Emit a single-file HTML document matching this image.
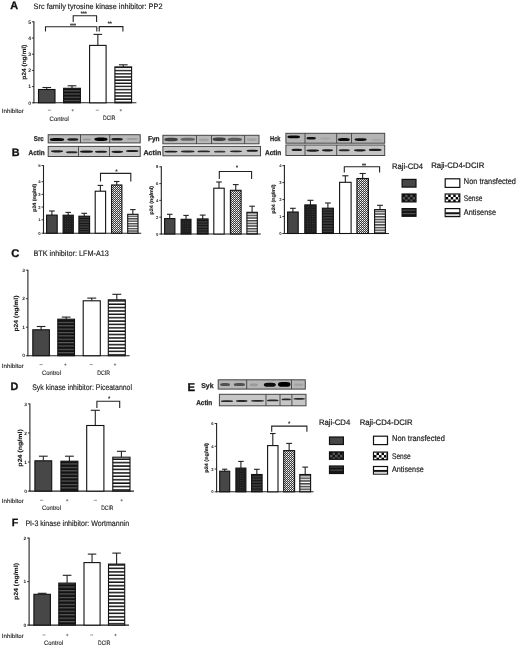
<!DOCTYPE html><html><head><meta charset="utf-8"><style>html,body{margin:0;padding:0;background:#fff;width:520px;height:646px;overflow:hidden}svg{display:block;filter:grayscale(1) blur(0.3px)}text{font-family:"Liberation Sans",sans-serif;text-rendering:geometricPrecision}</style></head><body>
<svg width="520" height="646" viewBox="0 0 520 646">
<defs>
<pattern id="pDS" width="4" height="3.25" patternUnits="userSpaceOnUse"><rect width="4" height="3.25" fill="#121212"/><rect y="1.6" width="4" height="1.1" fill="#5a5a5a"/></pattern>
<pattern id="pLS" width="4" height="3.25" patternUnits="userSpaceOnUse"><rect width="4" height="3.25" fill="#fff"/><rect y="0.2" width="4" height="1.45" fill="#111"/></pattern>
<pattern id="pDSs" width="4" height="2.6" patternUnits="userSpaceOnUse"><rect width="4" height="2.6" fill="#121212"/><rect y="1.3" width="4" height="1" fill="#666"/></pattern>
<pattern id="pLSs" width="4" height="2.6" patternUnits="userSpaceOnUse"><rect width="4" height="2.6" fill="#fff"/><rect y="0.1" width="4" height="1.15" fill="#111"/></pattern>
<pattern id="pDC" width="2.4" height="2.4" patternUnits="userSpaceOnUse"><rect width="2.4" height="2.4" fill="#141414"/><rect width="1.2" height="1.2" fill="#3c3c3c"/><rect x="1.2" y="1.2" width="1.2" height="1.2" fill="#262626"/></pattern>
<pattern id="pLC" width="2" height="2" patternUnits="userSpaceOnUse"><rect width="2" height="2" fill="#3a3a3a"/><rect width="1" height="1" fill="#fafafa"/><rect x="1" y="1" width="1" height="1" fill="#c0c0c0"/></pattern>
<pattern id="pLegC" width="5" height="5" patternUnits="userSpaceOnUse"><rect width="5" height="5" fill="#fff"/><rect x="2.5" width="2.5" height="2.5" fill="#000"/><rect y="2.5" width="2.5" height="2.5" fill="#000"/></pattern>
<pattern id="pLegDC" width="5" height="5" patternUnits="userSpaceOnUse"><rect width="5" height="5" fill="#111"/><rect width="2.5" height="2.5" fill="#555"/><rect x="2.5" y="2.5" width="2.5" height="2.5" fill="#555"/></pattern>
<pattern id="pD317" width="4" height="3.17" patternUnits="userSpaceOnUse"><rect width="4" height="3.17" fill="#121212"/><rect y="1.58" width="4" height="1.08" fill="#5a5a5a"/></pattern>
<pattern id="pL317" width="4" height="3.17" patternUnits="userSpaceOnUse"><rect width="4" height="3.17" fill="#fff"/><rect y="0.2" width="4" height="1.39" fill="#111"/></pattern>
<pattern id="pD245" width="4" height="2.45" patternUnits="userSpaceOnUse"><rect width="4" height="2.45" fill="#121212"/><rect y="1.23" width="4" height="0.83" fill="#5a5a5a"/></pattern>
<pattern id="pL245" width="4" height="2.45" patternUnits="userSpaceOnUse"><rect width="4" height="2.45" fill="#fff"/><rect y="0.2" width="4" height="1.08" fill="#111"/></pattern>
<pattern id="pD265" width="4" height="2.65" patternUnits="userSpaceOnUse"><rect width="4" height="2.65" fill="#121212"/><rect y="1.32" width="4" height="0.9" fill="#5a5a5a"/></pattern>
<pattern id="pL265" width="4" height="2.65" patternUnits="userSpaceOnUse"><rect width="4" height="2.65" fill="#fff"/><rect y="0.2" width="4" height="1.17" fill="#111"/></pattern>
<pattern id="pD270" width="4" height="2.7" patternUnits="userSpaceOnUse"><rect width="4" height="2.7" fill="#121212"/><rect y="1.35" width="4" height="0.92" fill="#5a5a5a"/></pattern>
<pattern id="pL270" width="4" height="2.7" patternUnits="userSpaceOnUse"><rect width="4" height="2.7" fill="#fff"/><rect y="0.2" width="4" height="1.19" fill="#111"/></pattern>
<pattern id="pD337" width="4" height="3.37" patternUnits="userSpaceOnUse"><rect width="4" height="3.37" fill="#121212"/><rect y="1.69" width="4" height="1.15" fill="#5a5a5a"/></pattern>
<pattern id="pL337" width="4" height="3.37" patternUnits="userSpaceOnUse"><rect width="4" height="3.37" fill="#fff"/><rect y="0.2" width="4" height="1.48" fill="#111"/></pattern>
<pattern id="pD342" width="4" height="3.42" patternUnits="userSpaceOnUse"><rect width="4" height="3.42" fill="#121212"/><rect y="1.71" width="4" height="1.16" fill="#5a5a5a"/></pattern>
<pattern id="pL342" width="4" height="3.42" patternUnits="userSpaceOnUse"><rect width="4" height="3.42" fill="#fff"/><rect y="0.2" width="4" height="1.5" fill="#111"/></pattern>
<pattern id="pD276" width="4" height="2.76" patternUnits="userSpaceOnUse"><rect width="4" height="2.76" fill="#121212"/><rect y="1.38" width="4" height="0.94" fill="#5a5a5a"/></pattern>
<pattern id="pL276" width="4" height="2.76" patternUnits="userSpaceOnUse"><rect width="4" height="2.76" fill="#fff"/><rect y="0.2" width="4" height="1.21" fill="#111"/></pattern>
<pattern id="pD346" width="4" height="3.46" patternUnits="userSpaceOnUse"><rect width="4" height="3.46" fill="#121212"/><rect y="1.73" width="4" height="1.18" fill="#5a5a5a"/></pattern>
<pattern id="pL346" width="4" height="3.46" patternUnits="userSpaceOnUse"><rect width="4" height="3.46" fill="#fff"/><rect y="0.2" width="4" height="1.52" fill="#111"/></pattern>
<filter id="bl" x="-20%" y="-100%" width="140%" height="300%"><feGaussianBlur stdDeviation="0.45"/></filter>
<filter id="bl2" x="-20%" y="-100%" width="140%" height="300%"><feGaussianBlur stdDeviation="0.75"/></filter>
</defs>
<rect width="520" height="646" fill="#fff"/>
<text x="10.2" y="8.9" font-size="10.8" font-weight="bold" text-anchor="start" fill="#111" stroke="#111" stroke-width="0.3">A</text>
<text x="33.6" y="9.4" font-size="7.9" text-anchor="start" textLength="128.9" lengthAdjust="spacingAndGlyphs" fill="#1a1a1a" stroke="#1a1a1a" stroke-width="0.15">Src family tyrosine kinase inhibitor: PP2</text>
<line x1="33.9" y1="21.3" x2="33.9" y2="103.3" stroke="#222" stroke-width="1.1"/>
<line x1="33.4" y1="102.8" x2="136.4" y2="102.8" stroke="#222" stroke-width="1.1"/>
<line x1="31.9" y1="102.8" x2="33.9" y2="102.8" stroke="#222" stroke-width="0.9"/>
<text x="31" y="104.6" font-size="5" font-weight="bold" text-anchor="end" fill="#222">0</text>
<line x1="31.9" y1="86.6" x2="33.9" y2="86.6" stroke="#222" stroke-width="0.9"/>
<text x="31" y="88.4" font-size="5" font-weight="bold" text-anchor="end" fill="#222">1</text>
<line x1="31.9" y1="70.4" x2="33.9" y2="70.4" stroke="#222" stroke-width="0.9"/>
<text x="31" y="72.2" font-size="5" font-weight="bold" text-anchor="end" fill="#222">2</text>
<line x1="31.9" y1="54.2" x2="33.9" y2="54.2" stroke="#222" stroke-width="0.9"/>
<text x="31" y="56" font-size="5" font-weight="bold" text-anchor="end" fill="#222">3</text>
<line x1="31.9" y1="38" x2="33.9" y2="38" stroke="#222" stroke-width="0.9"/>
<text x="31" y="39.8" font-size="5" font-weight="bold" text-anchor="end" fill="#222">4</text>
<line x1="31.9" y1="21.8" x2="33.9" y2="21.8" stroke="#222" stroke-width="0.9"/>
<text x="31" y="23.6" font-size="5" font-weight="bold" text-anchor="end" fill="#222">5</text>
<line x1="46.75" y1="89.5" x2="46.75" y2="87.5" stroke="#222" stroke-width="1.1"/>
<line x1="42.42" y1="87.5" x2="51.08" y2="87.5" stroke="#222" stroke-width="1.1"/>
<rect x="38.5" y="89.5" width="16.5" height="13.3" fill="#474747" stroke="#111" stroke-width="1.1"/>
<line x1="72" y1="88.3" x2="72" y2="85.8" stroke="#222" stroke-width="1.1"/>
<line x1="67.6" y1="85.8" x2="76.4" y2="85.8" stroke="#222" stroke-width="1.1"/>
<rect x="63.6" y="88.3" width="16.8" height="14.5" fill="url(#pD317)" stroke="#111" stroke-width="1.1"/>
<line x1="97.85" y1="45.4" x2="97.85" y2="34.4" stroke="#222" stroke-width="1.1"/>
<line x1="93.52" y1="34.4" x2="102.17" y2="34.4" stroke="#222" stroke-width="1.1"/>
<rect x="89.6" y="45.4" width="16.5" height="57.4" fill="#fff" stroke="#111" stroke-width="1.1"/>
<line x1="123.25" y1="66.9" x2="123.25" y2="64.8" stroke="#222" stroke-width="1.1"/>
<line x1="118.88" y1="64.8" x2="127.62" y2="64.8" stroke="#222" stroke-width="1.1"/>
<rect x="114.9" y="66.9" width="16.7" height="35.9" fill="url(#pL317)" stroke="#111" stroke-width="1.1"/>
<text transform="translate(24.7,62.2) rotate(-90)" x="0" y="0" font-size="6" font-weight="bold" text-anchor="middle" textLength="35" lengthAdjust="spacingAndGlyphs" fill="#1a1a1a" stroke="#1a1a1a" stroke-width="0.12" dominant-baseline="central">p24 (ng/ml)</text>
<path d="M73.2 21.9 V15.8 H96.6 V21.9" fill="none" stroke="#222" stroke-width="1.1"/>
<path d="M45.5 31.6 V26.8 H96.8 V31.6" fill="none" stroke="#222" stroke-width="1.1"/>
<path d="M99.2 31.6 V26.6 H122.9 V31.6" fill="none" stroke="#222" stroke-width="1.1"/>
<text x="83.7" y="15" font-size="5" font-weight="bold" text-anchor="middle" fill="#222" stroke="#222" stroke-width="0.15">***</text>
<text x="73" y="26.5" font-size="5" font-weight="bold" text-anchor="middle" fill="#222" stroke="#222" stroke-width="0.15">***</text>
<text x="109.7" y="25.3" font-size="5" font-weight="bold" text-anchor="middle" fill="#222" stroke="#222" stroke-width="0.15">**</text>
<text x="1.8" y="113.1" font-size="6" text-anchor="start" textLength="22" lengthAdjust="spacingAndGlyphs" fill="#222" stroke="#222" stroke-width="0.12">Inhibitor</text>
<line x1="47.9" y1="110.2" x2="51.1" y2="110.2" stroke="#555" stroke-width="0.6"/>
<line x1="71.5" y1="110.2" x2="73.9" y2="110.2" stroke="#555" stroke-width="0.6"/>
<line x1="72.7" y1="109" x2="72.7" y2="111.4" stroke="#555" stroke-width="0.6"/>
<line x1="95.7" y1="110.2" x2="98.9" y2="110.2" stroke="#555" stroke-width="0.6"/>
<line x1="119.6" y1="110.2" x2="122" y2="110.2" stroke="#555" stroke-width="0.6"/>
<line x1="120.8" y1="109" x2="120.8" y2="111.4" stroke="#555" stroke-width="0.6"/>
<text x="49.6" y="120.6" font-size="6.4" text-anchor="start" textLength="19.2" lengthAdjust="spacingAndGlyphs" fill="#222" stroke="#222" stroke-width="0.12">Control</text>
<text x="103" y="120.4" font-size="6.4" text-anchor="start" textLength="12.4" lengthAdjust="spacingAndGlyphs" fill="#222" stroke="#222" stroke-width="0.12">DCIR</text>
<text x="11.8" y="155.8" font-size="10.8" font-weight="bold" text-anchor="start" fill="#111" stroke="#111" stroke-width="0.3">B</text>
<text x="33.8" y="141.3" font-size="7" font-weight="bold" text-anchor="start" textLength="10" lengthAdjust="spacingAndGlyphs" fill="#222" stroke="#222" stroke-width="0.25">Src</text>
<text x="28.5" y="155.1" font-size="7" font-weight="bold" text-anchor="start" textLength="16.1" lengthAdjust="spacingAndGlyphs" fill="#222" stroke="#222" stroke-width="0.25">Actin</text>
<text x="148" y="141.3" font-size="7" font-weight="bold" text-anchor="start" textLength="11.6" lengthAdjust="spacingAndGlyphs" fill="#222" stroke="#222" stroke-width="0.25">Fyn</text>
<text x="143.5" y="155" font-size="7" font-weight="bold" text-anchor="start" textLength="17.7" lengthAdjust="spacingAndGlyphs" fill="#222" stroke="#222" stroke-width="0.25">Actin</text>
<text x="270" y="141.1" font-size="7" font-weight="bold" text-anchor="start" textLength="10.5" lengthAdjust="spacingAndGlyphs" fill="#222" stroke="#222" stroke-width="0.25">Hck</text>
<text x="265" y="155.1" font-size="7" font-weight="bold" text-anchor="start" textLength="16.2" lengthAdjust="spacingAndGlyphs" fill="#222" stroke="#222" stroke-width="0.25">Actin</text>
<rect x="48.2" y="134.7" width="92" height="8.2" fill="#b9b9b9" stroke="#444" stroke-width="1"/>
<rect x="49.8" y="137.9" width="14.4" height="3" rx="4.5" ry="1.5" fill="#000" opacity="0.95" filter="url(#bl)"/>
<rect x="67.3" y="138.3" width="11" height="2.4" rx="3.44" ry="1.2" fill="#000" opacity="0.85" filter="url(#bl)"/>
<rect x="82.5" y="138.4" width="8.5" height="2.2" rx="2.66" ry="1.1" fill="#000" opacity="0.18" filter="url(#bl)"/>
<rect x="94.4" y="137.6" width="13.1" height="3.4" rx="4.09" ry="1.7" fill="#000" opacity="1" filter="url(#bl)"/>
<rect x="111.3" y="137.9" width="11.5" height="2.6" rx="3.59" ry="1.3" fill="#000" opacity="0.85" filter="url(#bl)"/>
<rect x="126.7" y="137.9" width="11.3" height="2.2" rx="3.53" ry="1.1" fill="#000" opacity="0.15" filter="url(#bl)"/>
<line x1="80.5" y1="134.7" x2="80.5" y2="142.9" stroke="#333" stroke-width="0.8"/>
<line x1="109.8" y1="134.7" x2="109.8" y2="142.9" stroke="#333" stroke-width="0.8"/>
<rect x="48.2" y="146.4" width="92" height="10.1" fill="#c6c6c6" stroke="#444" stroke-width="1"/>
<rect x="51" y="150.2" width="12" height="2.2" rx="3.75" ry="1.1" fill="#000" opacity="0.85" filter="url(#bl)"/>
<rect x="66" y="151.3" width="11.5" height="2" rx="3.59" ry="1" fill="#000" opacity="0.8" filter="url(#bl)"/>
<rect x="80" y="150.4" width="13" height="2.4" rx="4.06" ry="1.2" fill="#000" opacity="0.9" filter="url(#bl)"/>
<rect x="95" y="150.8" width="12" height="2" rx="3.75" ry="1" fill="#000" opacity="0.85" filter="url(#bl)"/>
<rect x="111.5" y="150.7" width="11.5" height="2.2" rx="3.59" ry="1.1" fill="#000" opacity="0.85" filter="url(#bl)"/>
<rect x="126" y="149.9" width="12.5" height="2.2" rx="3.91" ry="1.1" fill="#000" opacity="0.85" filter="url(#bl)"/>
<line x1="78.5" y1="146.4" x2="78.5" y2="156.5" stroke="#333" stroke-width="0.8"/>
<line x1="109.5" y1="146.4" x2="109.5" y2="156.5" stroke="#333" stroke-width="0.8"/>
<rect x="162.9" y="135.3" width="96.1" height="8.5" fill="#bababa" stroke="#444" stroke-width="1"/>
<rect x="164.3" y="137.8" width="13.5" height="3.4" rx="4.22" ry="1.7" fill="#000" opacity="0.65" filter="url(#bl2)"/>
<rect x="180.5" y="137.8" width="14.5" height="3" rx="4.53" ry="1.5" fill="#000" opacity="0.45" filter="url(#bl2)"/>
<rect x="198.5" y="138.4" width="10.5" height="2.8" rx="3.28" ry="1.4" fill="#000" opacity="0.12" filter="url(#bl2)"/>
<rect x="212.6" y="137.5" width="13.2" height="3.4" rx="4.13" ry="1.7" fill="#000" opacity="0.65" filter="url(#bl2)"/>
<rect x="227.6" y="137.8" width="14.4" height="3.2" rx="4.5" ry="1.6" fill="#000" opacity="0.5" filter="url(#bl2)"/>
<rect x="246.5" y="138.2" width="10.5" height="2.8" rx="3.28" ry="1.4" fill="#000" opacity="0.12" filter="url(#bl2)"/>
<line x1="196.5" y1="135.3" x2="196.5" y2="143.8" stroke="#333" stroke-width="0.8"/>
<line x1="211.5" y1="135.3" x2="211.5" y2="143.8" stroke="#333" stroke-width="0.8"/>
<line x1="244.6" y1="135.3" x2="244.6" y2="143.8" stroke="#333" stroke-width="0.8"/>
<rect x="162.9" y="146.4" width="97.6" height="9.4" fill="#c6c6c6" stroke="#444" stroke-width="1"/>
<rect x="164.5" y="150.65" width="13" height="1.9" rx="4.06" ry="0.95" fill="#000" opacity="0.85" filter="url(#bl)"/>
<rect x="181" y="150.6" width="13.5" height="1.8" rx="4.22" ry="0.9" fill="#000" opacity="0.8" filter="url(#bl)"/>
<rect x="197.5" y="150.5" width="12.5" height="1.8" rx="3.91" ry="0.9" fill="#000" opacity="0.8" filter="url(#bl)"/>
<rect x="214" y="150.85" width="11.5" height="1.7" rx="3.59" ry="0.85" fill="#000" opacity="0.7" filter="url(#bl)"/>
<rect x="230" y="150.4" width="12" height="1.8" rx="3.75" ry="0.9" fill="#000" opacity="0.8" filter="url(#bl)"/>
<rect x="246.5" y="149.7" width="11.5" height="2" rx="3.59" ry="1" fill="#000" opacity="0.85" filter="url(#bl)"/>
<rect x="285.9" y="133.3" width="98.8" height="9.9" fill="#b4b4b4" stroke="#444" stroke-width="1"/>
<rect x="287.4" y="135.6" width="12.6" height="2.6" rx="3.94" ry="1.3" fill="#000" opacity="0.95" filter="url(#bl)"/>
<rect x="306.4" y="137" width="9.6" height="2.6" rx="3" ry="1.3" fill="#000" opacity="0.9" filter="url(#bl)"/>
<rect x="320" y="137.5" width="10.8" height="2.2" rx="3.38" ry="1.1" fill="#000" opacity="0.08" filter="url(#bl)"/>
<rect x="338" y="138.1" width="11.8" height="3" rx="3.69" ry="1.5" fill="#000" opacity="0.95" filter="url(#bl)"/>
<rect x="354.5" y="138.3" width="12.2" height="2.6" rx="3.81" ry="1.3" fill="#000" opacity="0.9" filter="url(#bl)"/>
<rect x="371" y="138.7" width="10.5" height="2.2" rx="3.28" ry="1.1" fill="#000" opacity="0.08" filter="url(#bl)"/>
<line x1="305" y1="133.3" x2="305" y2="143.2" stroke="#333" stroke-width="0.8"/>
<line x1="336.7" y1="133.3" x2="336.7" y2="143.2" stroke="#333" stroke-width="0.8"/>
<line x1="351.5" y1="133.3" x2="351.5" y2="143.2" stroke="#333" stroke-width="0.8"/>
<rect x="285.9" y="145" width="98.8" height="10.5" fill="#c4c4c4" stroke="#444" stroke-width="1"/>
<rect x="291.6" y="148.8" width="10.4" height="2.2" rx="3.25" ry="1.1" fill="#000" opacity="0.85" filter="url(#bl)"/>
<rect x="306.4" y="149.5" width="12.6" height="2.2" rx="3.94" ry="1.1" fill="#000" opacity="0.85" filter="url(#bl)"/>
<rect x="322" y="149.2" width="11" height="2.2" rx="3.44" ry="1.1" fill="#000" opacity="0.85" filter="url(#bl)"/>
<rect x="338.8" y="149.25" width="11" height="2.1" rx="3.44" ry="1.05" fill="#000" opacity="0.8" filter="url(#bl)"/>
<rect x="354" y="149.2" width="11.7" height="2.2" rx="3.66" ry="1.1" fill="#000" opacity="0.85" filter="url(#bl)"/>
<rect x="368.8" y="148.8" width="12.7" height="2.2" rx="3.97" ry="1.1" fill="#000" opacity="0.85" filter="url(#bl)"/>
<line x1="305" y1="145" x2="305" y2="155.5" stroke="#333" stroke-width="0.8"/>
<line x1="336.7" y1="145" x2="336.7" y2="155.5" stroke="#333" stroke-width="0.8"/>
<line x1="43.5" y1="165.1" x2="43.5" y2="233.7" stroke="#222" stroke-width="1.1"/>
<line x1="43" y1="233.2" x2="141.2" y2="233.2" stroke="#222" stroke-width="1.1"/>
<line x1="41.5" y1="233.2" x2="43.5" y2="233.2" stroke="#222" stroke-width="0.9"/>
<text x="40.6" y="234.71" font-size="4.2" font-weight="bold" text-anchor="end" fill="#222">0</text>
<line x1="41.5" y1="219.8" x2="43.5" y2="219.8" stroke="#222" stroke-width="0.9"/>
<text x="40.6" y="221.31" font-size="4.2" font-weight="bold" text-anchor="end" fill="#222">1</text>
<line x1="41.5" y1="207.1" x2="43.5" y2="207.1" stroke="#222" stroke-width="0.9"/>
<text x="40.6" y="208.61" font-size="4.2" font-weight="bold" text-anchor="end" fill="#222">2</text>
<line x1="41.5" y1="194.4" x2="43.5" y2="194.4" stroke="#222" stroke-width="0.9"/>
<text x="40.6" y="195.91" font-size="4.2" font-weight="bold" text-anchor="end" fill="#222">3</text>
<line x1="41.5" y1="181.7" x2="43.5" y2="181.7" stroke="#222" stroke-width="0.9"/>
<text x="40.6" y="183.21" font-size="4.2" font-weight="bold" text-anchor="end" fill="#222">4</text>
<line x1="41.5" y1="165.5" x2="43.5" y2="165.5" stroke="#222" stroke-width="0.9"/>
<text x="40.6" y="167.01" font-size="4.2" font-weight="bold" text-anchor="end" fill="#222">5</text>
<line x1="51.9" y1="215.1" x2="51.9" y2="211" stroke="#222" stroke-width="1.1"/>
<line x1="49.05" y1="211" x2="54.75" y2="211" stroke="#222" stroke-width="1.1"/>
<rect x="46.6" y="215.1" width="10.6" height="18.1" fill="#474747" stroke="#111" stroke-width="1.1"/>
<line x1="68.2" y1="215.2" x2="68.2" y2="212.4" stroke="#222" stroke-width="1.1"/>
<line x1="65.45" y1="212.4" x2="70.95" y2="212.4" stroke="#222" stroke-width="1.1"/>
<rect x="63.1" y="215.2" width="10.2" height="18" fill="url(#pDC)" stroke="#111" stroke-width="1.1"/>
<line x1="84.25" y1="216.2" x2="84.25" y2="213.3" stroke="#222" stroke-width="1.1"/>
<line x1="81.38" y1="213.3" x2="87.12" y2="213.3" stroke="#222" stroke-width="1.1"/>
<rect x="78.9" y="216.2" width="10.7" height="17" fill="url(#pD245)" stroke="#111" stroke-width="1.1"/>
<line x1="100.4" y1="191.2" x2="100.4" y2="185.4" stroke="#222" stroke-width="1.1"/>
<line x1="97.6" y1="185.4" x2="103.2" y2="185.4" stroke="#222" stroke-width="1.1"/>
<rect x="95.2" y="191.2" width="10.4" height="42" fill="#fff" stroke="#111" stroke-width="1.1"/>
<line x1="116.75" y1="185" x2="116.75" y2="181.5" stroke="#222" stroke-width="1.1"/>
<line x1="113.97" y1="181.5" x2="119.53" y2="181.5" stroke="#222" stroke-width="1.1"/>
<rect x="111.6" y="185" width="10.3" height="48.2" fill="url(#pLC)" stroke="#111" stroke-width="1.1"/>
<line x1="132.85" y1="214.3" x2="132.85" y2="209.6" stroke="#222" stroke-width="1.1"/>
<line x1="130.07" y1="209.6" x2="135.62" y2="209.6" stroke="#222" stroke-width="1.1"/>
<rect x="127.7" y="214.3" width="10.3" height="18.9" fill="url(#pL245)" stroke="#111" stroke-width="1.1"/>
<text transform="translate(34.8,197.8) rotate(-90)" x="0" y="0" font-size="5" font-weight="bold" text-anchor="middle" textLength="28" lengthAdjust="spacingAndGlyphs" fill="#1a1a1a" stroke="#1a1a1a" stroke-width="0.12" dominant-baseline="central">p24 (ng/ml)</text>
<path d="M100.5 181.5 V173.4 H130.8 V181.5" fill="none" stroke="#222" stroke-width="1.1"/>
<text x="116.6" y="172.7" font-size="5" font-weight="bold" text-anchor="middle" fill="#222" stroke="#222" stroke-width="0.15">*</text>
<line x1="161.3" y1="166.3" x2="161.3" y2="234.5" stroke="#222" stroke-width="1.1"/>
<line x1="160.8" y1="234" x2="260.8" y2="234" stroke="#222" stroke-width="1.1"/>
<line x1="159.3" y1="234" x2="161.3" y2="234" stroke="#222" stroke-width="0.9"/>
<text x="158.4" y="235.51" font-size="4.2" font-weight="bold" text-anchor="end" fill="#222">0</text>
<line x1="159.3" y1="217.2" x2="161.3" y2="217.2" stroke="#222" stroke-width="0.9"/>
<text x="158.4" y="218.71" font-size="4.2" font-weight="bold" text-anchor="end" fill="#222">2</text>
<line x1="159.3" y1="200.4" x2="161.3" y2="200.4" stroke="#222" stroke-width="0.9"/>
<text x="158.4" y="201.91" font-size="4.2" font-weight="bold" text-anchor="end" fill="#222">4</text>
<line x1="159.3" y1="183.6" x2="161.3" y2="183.6" stroke="#222" stroke-width="0.9"/>
<text x="158.4" y="185.11" font-size="4.2" font-weight="bold" text-anchor="end" fill="#222">6</text>
<line x1="159.3" y1="166.8" x2="161.3" y2="166.8" stroke="#222" stroke-width="0.9"/>
<text x="158.4" y="168.31" font-size="4.2" font-weight="bold" text-anchor="end" fill="#222">8</text>
<line x1="169.75" y1="218.6" x2="169.75" y2="214.3" stroke="#222" stroke-width="1.1"/>
<line x1="166.97" y1="214.3" x2="172.53" y2="214.3" stroke="#222" stroke-width="1.1"/>
<rect x="164.6" y="218.6" width="10.3" height="15.4" fill="#474747" stroke="#111" stroke-width="1.1"/>
<line x1="186.05" y1="219.3" x2="186.05" y2="215.4" stroke="#222" stroke-width="1.1"/>
<line x1="183.38" y1="215.4" x2="188.73" y2="215.4" stroke="#222" stroke-width="1.1"/>
<rect x="181.1" y="219.3" width="9.9" height="14.7" fill="url(#pDC)" stroke="#111" stroke-width="1.1"/>
<line x1="202.7" y1="218.9" x2="202.7" y2="215.1" stroke="#222" stroke-width="1.1"/>
<line x1="199.8" y1="215.1" x2="205.6" y2="215.1" stroke="#222" stroke-width="1.1"/>
<rect x="197.3" y="218.9" width="10.8" height="15.1" fill="url(#pD265)" stroke="#111" stroke-width="1.1"/>
<line x1="219" y1="188.2" x2="219" y2="182" stroke="#222" stroke-width="1.1"/>
<line x1="216.2" y1="182" x2="221.8" y2="182" stroke="#222" stroke-width="1.1"/>
<rect x="213.8" y="188.2" width="10.4" height="45.8" fill="#fff" stroke="#111" stroke-width="1.1"/>
<line x1="235.75" y1="190.3" x2="235.75" y2="184.6" stroke="#222" stroke-width="1.1"/>
<line x1="232.88" y1="184.6" x2="238.62" y2="184.6" stroke="#222" stroke-width="1.1"/>
<rect x="230.4" y="190.3" width="10.7" height="43.7" fill="url(#pLC)" stroke="#111" stroke-width="1.1"/>
<line x1="252.1" y1="212.3" x2="252.1" y2="206.2" stroke="#222" stroke-width="1.1"/>
<line x1="249.3" y1="206.2" x2="254.9" y2="206.2" stroke="#222" stroke-width="1.1"/>
<rect x="246.9" y="212.3" width="10.4" height="21.7" fill="url(#pL265)" stroke="#111" stroke-width="1.1"/>
<text transform="translate(151.9,200.3) rotate(-90)" x="0" y="0" font-size="5" font-weight="bold" text-anchor="middle" textLength="28.5" lengthAdjust="spacingAndGlyphs" fill="#1a1a1a" stroke="#1a1a1a" stroke-width="0.12" dominant-baseline="central">p24 (ng/ml)</text>
<path d="M219.3 179 V171.5 H251.6 V179" fill="none" stroke="#222" stroke-width="1.1"/>
<text x="237" y="169.3" font-size="5" font-weight="bold" text-anchor="middle" fill="#222" stroke="#222" stroke-width="0.15">*</text>
<line x1="284.4" y1="165.1" x2="284.4" y2="234" stroke="#222" stroke-width="1.1"/>
<line x1="283.9" y1="233.5" x2="388.9" y2="233.5" stroke="#222" stroke-width="1.1"/>
<line x1="282.4" y1="233.5" x2="284.4" y2="233.5" stroke="#222" stroke-width="0.9"/>
<text x="281.5" y="235.01" font-size="4.2" font-weight="bold" text-anchor="end" fill="#222">0</text>
<line x1="282.4" y1="216.53" x2="284.4" y2="216.53" stroke="#222" stroke-width="0.9"/>
<text x="281.5" y="218.04" font-size="4.2" font-weight="bold" text-anchor="end" fill="#222">1</text>
<line x1="282.4" y1="199.55" x2="284.4" y2="199.55" stroke="#222" stroke-width="0.9"/>
<text x="281.5" y="201.06" font-size="4.2" font-weight="bold" text-anchor="end" fill="#222">2</text>
<line x1="282.4" y1="182.57" x2="284.4" y2="182.57" stroke="#222" stroke-width="0.9"/>
<text x="281.5" y="184.09" font-size="4.2" font-weight="bold" text-anchor="end" fill="#222">3</text>
<line x1="282.4" y1="165.6" x2="284.4" y2="165.6" stroke="#222" stroke-width="0.9"/>
<text x="281.5" y="167.11" font-size="4.2" font-weight="bold" text-anchor="end" fill="#222">4</text>
<line x1="292.9" y1="212" x2="292.9" y2="208.3" stroke="#222" stroke-width="1.1"/>
<line x1="290.05" y1="208.3" x2="295.75" y2="208.3" stroke="#222" stroke-width="1.1"/>
<rect x="287.6" y="212" width="10.6" height="21.5" fill="#474747" stroke="#111" stroke-width="1.1"/>
<line x1="310.45" y1="204.9" x2="310.45" y2="200.3" stroke="#222" stroke-width="1.1"/>
<line x1="307.42" y1="200.3" x2="313.48" y2="200.3" stroke="#222" stroke-width="1.1"/>
<rect x="304.8" y="204.9" width="11.3" height="28.6" fill="url(#pDC)" stroke="#111" stroke-width="1.1"/>
<line x1="327.9" y1="208.2" x2="327.9" y2="203" stroke="#222" stroke-width="1.1"/>
<line x1="324.95" y1="203" x2="330.85" y2="203" stroke="#222" stroke-width="1.1"/>
<rect x="322.4" y="208.2" width="11" height="25.3" fill="url(#pD270)" stroke="#111" stroke-width="1.1"/>
<line x1="345.35" y1="182.3" x2="345.35" y2="175.8" stroke="#222" stroke-width="1.1"/>
<line x1="342.28" y1="175.8" x2="348.43" y2="175.8" stroke="#222" stroke-width="1.1"/>
<rect x="339.6" y="182.3" width="11.5" height="51.2" fill="#fff" stroke="#111" stroke-width="1.1"/>
<line x1="362.65" y1="178.5" x2="362.65" y2="173.5" stroke="#222" stroke-width="1.1"/>
<line x1="359.57" y1="173.5" x2="365.72" y2="173.5" stroke="#222" stroke-width="1.1"/>
<rect x="356.9" y="178.5" width="11.5" height="55" fill="url(#pLC)" stroke="#111" stroke-width="1.1"/>
<line x1="380" y1="209.6" x2="380" y2="205.3" stroke="#222" stroke-width="1.1"/>
<line x1="377.1" y1="205.3" x2="382.9" y2="205.3" stroke="#222" stroke-width="1.1"/>
<rect x="374.6" y="209.6" width="10.8" height="23.9" fill="url(#pL270)" stroke="#111" stroke-width="1.1"/>
<text transform="translate(274.1,199) rotate(-90)" x="0" y="0" font-size="5" font-weight="bold" text-anchor="middle" textLength="29" lengthAdjust="spacingAndGlyphs" fill="#1a1a1a" stroke="#1a1a1a" stroke-width="0.12" dominant-baseline="central">p24 (ng/ml)</text>
<path d="M344.3 172.6 V166.7 H379.6 V172.6" fill="none" stroke="#222" stroke-width="1.1"/>
<text x="364" y="166.9" font-size="5" font-weight="bold" text-anchor="middle" fill="#222" stroke="#222" stroke-width="0.15">**</text>
<text x="392" y="168.8" font-size="8" text-anchor="start" textLength="31" lengthAdjust="spacingAndGlyphs" fill="#1a1a1a" stroke="#1a1a1a" stroke-width="0.22">Raji-CD4</text>
<text x="431.2" y="168.3" font-size="8" text-anchor="start" textLength="53.2" lengthAdjust="spacingAndGlyphs" fill="#1a1a1a" stroke="#1a1a1a" stroke-width="0.22">Raji-CD4-DCIR</text>
<rect x="402.1" y="179.4" width="13.9" height="7.7" fill="#474747" stroke="#111" stroke-width="1.2"/>
<rect x="402.1" y="194" width="13.9" height="7.9" fill="#111"/>
<clipPath id="c214"><rect x="402.1" y="194" width="13.9" height="7.9"/></clipPath>
<g fill="#555" clip-path="url(#c214)"><rect x="405.1" y="194.5" width="2.5" height="2.5"/><rect x="410.1" y="194.5" width="2.5" height="2.5"/><rect x="415.1" y="194.5" width="2.5" height="2.5"/><rect x="402.6" y="197" width="2.5" height="2.5"/><rect x="407.6" y="197" width="2.5" height="2.5"/><rect x="412.6" y="197" width="2.5" height="2.5"/><rect x="417.6" y="197" width="2.5" height="2.5"/><rect x="405.1" y="199.5" width="2.5" height="2.5"/><rect x="410.1" y="199.5" width="2.5" height="2.5"/><rect x="415.1" y="199.5" width="2.5" height="2.5"/><rect x="402.6" y="202" width="2.5" height="2.5"/><rect x="407.6" y="202" width="2.5" height="2.5"/><rect x="412.6" y="202" width="2.5" height="2.5"/><rect x="417.6" y="202" width="2.5" height="2.5"/><rect x="405.1" y="204.5" width="2.5" height="2.5"/><rect x="410.1" y="204.5" width="2.5" height="2.5"/><rect x="415.1" y="204.5" width="2.5" height="2.5"/></g>
<rect x="402.1" y="194" width="13.9" height="7.9" fill="none" stroke="#111" stroke-width="1.2"/>
<rect x="402.1" y="208.6" width="13.9" height="7.7" fill="url(#pDS)" stroke="#111" stroke-width="1.2"/>
<rect x="445.2" y="178.8" width="14.6" height="8.6" fill="#fff" stroke="#111" stroke-width="1.2"/>
<rect x="445.2" y="194" width="14.6" height="7.9" fill="#fff"/>
<clipPath id="c220"><rect x="445.2" y="194" width="14.6" height="7.9"/></clipPath>
<g fill="#000" clip-path="url(#c220)"><rect x="448.2" y="194.5" width="2.5" height="2.5"/><rect x="453.2" y="194.5" width="2.5" height="2.5"/><rect x="458.2" y="194.5" width="2.5" height="2.5"/><rect x="445.7" y="197" width="2.5" height="2.5"/><rect x="450.7" y="197" width="2.5" height="2.5"/><rect x="455.7" y="197" width="2.5" height="2.5"/><rect x="460.7" y="197" width="2.5" height="2.5"/><rect x="448.2" y="199.5" width="2.5" height="2.5"/><rect x="453.2" y="199.5" width="2.5" height="2.5"/><rect x="458.2" y="199.5" width="2.5" height="2.5"/><rect x="445.7" y="202" width="2.5" height="2.5"/><rect x="450.7" y="202" width="2.5" height="2.5"/><rect x="455.7" y="202" width="2.5" height="2.5"/><rect x="460.7" y="202" width="2.5" height="2.5"/><rect x="448.2" y="204.5" width="2.5" height="2.5"/><rect x="453.2" y="204.5" width="2.5" height="2.5"/><rect x="458.2" y="204.5" width="2.5" height="2.5"/></g>
<rect x="445.2" y="194" width="14.6" height="7.9" fill="none" stroke="#111" stroke-width="1.2"/>
<rect x="445.2" y="208.6" width="14.6" height="8" fill="#fff" stroke="#111" stroke-width="1.2"/>
<rect x="445.8" y="212.6" width="13.4" height="3.4" fill="#d4d4d4"/>
<line x1="445.2" y1="213.2" x2="459.8" y2="213.2" stroke="#111" stroke-width="1.9"/>
<text x="463.8" y="183.6" font-size="8.2" text-anchor="start" textLength="52.2" lengthAdjust="spacingAndGlyphs" fill="#1a1a1a" stroke="#1a1a1a" stroke-width="0.18">Non transfected</text>
<text x="463.8" y="200.8" font-size="8.2" text-anchor="start" textLength="18.7" lengthAdjust="spacingAndGlyphs" fill="#1a1a1a" stroke="#1a1a1a" stroke-width="0.18">Sense</text>
<text x="463.8" y="214.7" font-size="8.2" text-anchor="start" textLength="32.2" lengthAdjust="spacingAndGlyphs" fill="#1a1a1a" stroke="#1a1a1a" stroke-width="0.18">Antisense</text>
<text x="11.3" y="256.8" font-size="11.2" font-weight="bold" text-anchor="start" fill="#111" stroke="#111" stroke-width="0.3">C</text>
<text x="33.4" y="255.8" font-size="8" text-anchor="start" textLength="75.4" lengthAdjust="spacingAndGlyphs" fill="#1a1a1a" stroke="#1a1a1a" stroke-width="0.15">BTK inhibitor: LFM-A13</text>
<line x1="27.9" y1="269.7" x2="27.9" y2="356.2" stroke="#222" stroke-width="1.1"/>
<line x1="27.4" y1="355.7" x2="129.7" y2="355.7" stroke="#222" stroke-width="1.1"/>
<line x1="25.9" y1="355.7" x2="27.9" y2="355.7" stroke="#222" stroke-width="0.9"/>
<text x="25" y="357.43" font-size="4.8" font-weight="bold" text-anchor="end" fill="#222">0</text>
<line x1="25.9" y1="327.2" x2="27.9" y2="327.2" stroke="#222" stroke-width="0.9"/>
<text x="25" y="328.93" font-size="4.8" font-weight="bold" text-anchor="end" fill="#222">1</text>
<line x1="25.9" y1="298.7" x2="27.9" y2="298.7" stroke="#222" stroke-width="0.9"/>
<text x="25" y="300.43" font-size="4.8" font-weight="bold" text-anchor="end" fill="#222">2</text>
<line x1="25.9" y1="270.2" x2="27.9" y2="270.2" stroke="#222" stroke-width="0.9"/>
<text x="25" y="271.93" font-size="4.8" font-weight="bold" text-anchor="end" fill="#222">3</text>
<line x1="41.1" y1="329.8" x2="41.1" y2="326.5" stroke="#222" stroke-width="1.1"/>
<line x1="36.75" y1="326.5" x2="45.45" y2="326.5" stroke="#222" stroke-width="1.1"/>
<rect x="32.8" y="329.8" width="16.6" height="25.9" fill="#474747" stroke="#111" stroke-width="1.1"/>
<line x1="66.15" y1="319.2" x2="66.15" y2="317.1" stroke="#222" stroke-width="1.1"/>
<line x1="61.78" y1="317.1" x2="70.53" y2="317.1" stroke="#222" stroke-width="1.1"/>
<rect x="57.8" y="319.2" width="16.7" height="36.5" fill="url(#pD337)" stroke="#111" stroke-width="1.1"/>
<line x1="91.75" y1="300.8" x2="91.75" y2="298.1" stroke="#222" stroke-width="1.1"/>
<line x1="87.28" y1="298.1" x2="96.22" y2="298.1" stroke="#222" stroke-width="1.1"/>
<rect x="83.2" y="300.8" width="17.1" height="54.9" fill="#fff" stroke="#111" stroke-width="1.1"/>
<line x1="116.8" y1="299.8" x2="116.8" y2="294.3" stroke="#222" stroke-width="1.1"/>
<line x1="112.35" y1="294.3" x2="121.25" y2="294.3" stroke="#222" stroke-width="1.1"/>
<rect x="108.3" y="299.8" width="17" height="55.9" fill="url(#pL337)" stroke="#111" stroke-width="1.1"/>
<text transform="translate(16.6,313.5) rotate(-90)" x="0" y="0" font-size="6" font-weight="bold" text-anchor="middle" textLength="36" lengthAdjust="spacingAndGlyphs" fill="#1a1a1a" stroke="#1a1a1a" stroke-width="0.12" dominant-baseline="central">p24 (ng/ml)</text>
<text x="1.8" y="367.5" font-size="6" text-anchor="start" textLength="22" lengthAdjust="spacingAndGlyphs" fill="#222" stroke="#222" stroke-width="0.12">Inhibitor</text>
<line x1="39.5" y1="364.6" x2="42.7" y2="364.6" stroke="#555" stroke-width="0.6"/>
<line x1="64.2" y1="364.6" x2="66.6" y2="364.6" stroke="#555" stroke-width="0.6"/>
<line x1="65.4" y1="363.4" x2="65.4" y2="365.8" stroke="#555" stroke-width="0.6"/>
<line x1="89.6" y1="364.6" x2="92.8" y2="364.6" stroke="#555" stroke-width="0.6"/>
<line x1="113.8" y1="364.6" x2="116.2" y2="364.6" stroke="#555" stroke-width="0.6"/>
<line x1="115" y1="363.4" x2="115" y2="365.8" stroke="#555" stroke-width="0.6"/>
<text x="41.9" y="375.1" font-size="6.4" text-anchor="start" textLength="19.1" lengthAdjust="spacingAndGlyphs" fill="#222" stroke="#222" stroke-width="0.12">Control</text>
<text x="97.3" y="374.9" font-size="6.4" text-anchor="start" textLength="12.7" lengthAdjust="spacingAndGlyphs" fill="#222" stroke="#222" stroke-width="0.12">DCIR</text>
<text x="10.6" y="390.1" font-size="10.8" font-weight="bold" text-anchor="start" fill="#111" stroke="#111" stroke-width="0.3">D</text>
<text x="32.2" y="389.5" font-size="8.1" text-anchor="start" textLength="99.8" lengthAdjust="spacingAndGlyphs" fill="#1a1a1a" stroke="#1a1a1a" stroke-width="0.15">Syk kinase inhibitor: Piceatannol</text>
<line x1="29.9" y1="403.4" x2="29.9" y2="491.6" stroke="#222" stroke-width="1.1"/>
<line x1="29.4" y1="491.1" x2="134" y2="491.1" stroke="#222" stroke-width="1.1"/>
<line x1="27.9" y1="491.1" x2="29.9" y2="491.1" stroke="#222" stroke-width="0.9"/>
<text x="27" y="492.83" font-size="4.8" font-weight="bold" text-anchor="end" fill="#222">0</text>
<line x1="27.9" y1="462.03" x2="29.9" y2="462.03" stroke="#222" stroke-width="0.9"/>
<text x="27" y="463.76" font-size="4.8" font-weight="bold" text-anchor="end" fill="#222">1</text>
<line x1="27.9" y1="432.97" x2="29.9" y2="432.97" stroke="#222" stroke-width="0.9"/>
<text x="27" y="434.69" font-size="4.8" font-weight="bold" text-anchor="end" fill="#222">2</text>
<line x1="27.9" y1="403.9" x2="29.9" y2="403.9" stroke="#222" stroke-width="0.9"/>
<text x="27" y="405.63" font-size="4.8" font-weight="bold" text-anchor="end" fill="#222">3</text>
<line x1="43.3" y1="460.8" x2="43.3" y2="456.2" stroke="#222" stroke-width="1.1"/>
<line x1="38.9" y1="456.2" x2="47.7" y2="456.2" stroke="#222" stroke-width="1.1"/>
<rect x="34.9" y="460.8" width="16.8" height="30.3" fill="#474747" stroke="#111" stroke-width="1.1"/>
<line x1="69.4" y1="461.2" x2="69.4" y2="456.2" stroke="#222" stroke-width="1.1"/>
<line x1="64.95" y1="456.2" x2="73.85" y2="456.2" stroke="#222" stroke-width="1.1"/>
<rect x="60.9" y="461.2" width="17" height="29.9" fill="url(#pD342)" stroke="#111" stroke-width="1.1"/>
<line x1="95.3" y1="425.5" x2="95.3" y2="410.3" stroke="#222" stroke-width="1.1"/>
<line x1="90.8" y1="410.3" x2="99.8" y2="410.3" stroke="#222" stroke-width="1.1"/>
<rect x="86.7" y="425.5" width="17.2" height="65.6" fill="#fff" stroke="#111" stroke-width="1.1"/>
<line x1="121.4" y1="457.2" x2="121.4" y2="451.3" stroke="#222" stroke-width="1.1"/>
<line x1="116.9" y1="451.3" x2="125.9" y2="451.3" stroke="#222" stroke-width="1.1"/>
<rect x="112.8" y="457.2" width="17.2" height="33.9" fill="url(#pL342)" stroke="#111" stroke-width="1.1"/>
<text transform="translate(21.3,447.9) rotate(-90)" x="0" y="0" font-size="6" font-weight="bold" text-anchor="middle" textLength="37.5" lengthAdjust="spacingAndGlyphs" fill="#1a1a1a" stroke="#1a1a1a" stroke-width="0.12" dominant-baseline="central">p24 (ng/ml)</text>
<path d="M96.9 408 V401.3 H119.7 V408" fill="none" stroke="#222" stroke-width="1.1"/>
<text x="109.2" y="400.3" font-size="5" font-weight="bold" text-anchor="middle" fill="#222" stroke="#222" stroke-width="0.15">*</text>
<text x="1.8" y="503.2" font-size="6" text-anchor="start" textLength="22" lengthAdjust="spacingAndGlyphs" fill="#222" stroke="#222" stroke-width="0.12">Inhibitor</text>
<line x1="40" y1="500.3" x2="43.2" y2="500.3" stroke="#555" stroke-width="0.6"/>
<line x1="66" y1="500.3" x2="68.4" y2="500.3" stroke="#555" stroke-width="0.6"/>
<line x1="67.2" y1="499.1" x2="67.2" y2="501.5" stroke="#555" stroke-width="0.6"/>
<line x1="93.8" y1="500.3" x2="97" y2="500.3" stroke="#555" stroke-width="0.6"/>
<line x1="120.4" y1="500.3" x2="122.8" y2="500.3" stroke="#555" stroke-width="0.6"/>
<line x1="121.6" y1="499.1" x2="121.6" y2="501.5" stroke="#555" stroke-width="0.6"/>
<text x="41.9" y="510.3" font-size="6.4" text-anchor="start" textLength="19.1" lengthAdjust="spacingAndGlyphs" fill="#222" stroke="#222" stroke-width="0.12">Control</text>
<text x="101.2" y="510.1" font-size="6.4" text-anchor="start" textLength="12.2" lengthAdjust="spacingAndGlyphs" fill="#222" stroke="#222" stroke-width="0.12">DCIR</text>
<text x="187.6" y="391.3" font-size="11.4" font-weight="bold" text-anchor="start" fill="#111" stroke="#111" stroke-width="0.3">E</text>
<text x="201.2" y="387.8" font-size="7" font-weight="bold" text-anchor="start" textLength="12.3" lengthAdjust="spacingAndGlyphs" fill="#222" stroke="#222" stroke-width="0.25">Syk</text>
<text x="196.2" y="405.1" font-size="7" font-weight="bold" text-anchor="start" textLength="16.1" lengthAdjust="spacingAndGlyphs" fill="#222" stroke="#222" stroke-width="0.25">Actin</text>
<rect x="218.2" y="379.8" width="87.1" height="9.3" fill="#b6b6b6" stroke="#444" stroke-width="1"/>
<rect x="220.2" y="383.1" width="9.8" height="3" rx="3.06" ry="1.5" fill="#000" opacity="0.55" filter="url(#bl)"/>
<rect x="233.8" y="382.9" width="11.2" height="3" rx="3.5" ry="1.5" fill="#000" opacity="0.55" filter="url(#bl)"/>
<rect x="249.6" y="383.6" width="8.6" height="2.6" rx="2.69" ry="1.3" fill="#000" opacity="0.15" filter="url(#bl)"/>
<rect x="263.8" y="382.8" width="12" height="4" rx="3.75" ry="2" fill="#000" opacity="0.92" filter="url(#bl)"/>
<rect x="278" y="382.1" width="12.4" height="4.6" rx="3.87" ry="2.3" fill="#000" opacity="1" filter="url(#bl)"/>
<rect x="293.8" y="383.6" width="9.6" height="2.4" rx="3" ry="1.2" fill="#000" opacity="0.1" filter="url(#bl)"/>
<line x1="246.7" y1="379.8" x2="246.7" y2="389.1" stroke="#333" stroke-width="0.8"/>
<line x1="291.5" y1="379.8" x2="291.5" y2="389.1" stroke="#333" stroke-width="0.8"/>
<rect x="219.4" y="394.3" width="86.6" height="11.5" fill="#c6c6c6" stroke="#444" stroke-width="1"/>
<rect x="221" y="400.3" width="12" height="1.8" rx="3.75" ry="0.9" fill="#000" opacity="0.8" filter="url(#bl)"/>
<rect x="236" y="400.1" width="11.5" height="1.8" rx="3.59" ry="0.9" fill="#000" opacity="0.8" filter="url(#bl)"/>
<rect x="251" y="399.9" width="13" height="1.8" rx="4.06" ry="0.9" fill="#000" opacity="0.8" filter="url(#bl)"/>
<rect x="267" y="399.5" width="11.5" height="1.8" rx="3.59" ry="0.9" fill="#000" opacity="0.8" filter="url(#bl)"/>
<rect x="281.5" y="398.5" width="9.5" height="1.8" rx="2.97" ry="0.9" fill="#000" opacity="0.8" filter="url(#bl)"/>
<rect x="293.5" y="397.9" width="11.5" height="1.8" rx="3.59" ry="0.9" fill="#000" opacity="0.8" filter="url(#bl)"/>
<line x1="266" y1="394.3" x2="266" y2="405.8" stroke="#333" stroke-width="0.8"/>
<line x1="280" y1="394.3" x2="280" y2="405.8" stroke="#333" stroke-width="0.8"/>
<line x1="291.9" y1="394.3" x2="291.9" y2="405.8" stroke="#333" stroke-width="0.8"/>
<line x1="216.6" y1="423" x2="216.6" y2="492.3" stroke="#222" stroke-width="1.1"/>
<line x1="216.1" y1="491.8" x2="313.6" y2="491.8" stroke="#222" stroke-width="1.1"/>
<line x1="214.6" y1="491.8" x2="216.6" y2="491.8" stroke="#222" stroke-width="0.9"/>
<text x="213.7" y="493.31" font-size="4.2" font-weight="bold" text-anchor="end" fill="#222">0</text>
<line x1="214.6" y1="469.03" x2="216.6" y2="469.03" stroke="#222" stroke-width="0.9"/>
<text x="213.7" y="470.55" font-size="4.2" font-weight="bold" text-anchor="end" fill="#222">2</text>
<line x1="214.6" y1="446.27" x2="216.6" y2="446.27" stroke="#222" stroke-width="0.9"/>
<text x="213.7" y="447.78" font-size="4.2" font-weight="bold" text-anchor="end" fill="#222">4</text>
<line x1="214.6" y1="423.5" x2="216.6" y2="423.5" stroke="#222" stroke-width="0.9"/>
<text x="213.7" y="425.01" font-size="4.2" font-weight="bold" text-anchor="end" fill="#222">6</text>
<line x1="224.7" y1="471.2" x2="224.7" y2="469.2" stroke="#222" stroke-width="1.1"/>
<line x1="222" y1="469.2" x2="227.4" y2="469.2" stroke="#222" stroke-width="1.1"/>
<rect x="219.7" y="471.2" width="10" height="20.6" fill="#474747" stroke="#111" stroke-width="1.1"/>
<line x1="240.9" y1="468.1" x2="240.9" y2="461.4" stroke="#222" stroke-width="1.1"/>
<line x1="238.2" y1="461.4" x2="243.6" y2="461.4" stroke="#222" stroke-width="1.1"/>
<rect x="235.9" y="468.1" width="10" height="23.7" fill="url(#pDC)" stroke="#111" stroke-width="1.1"/>
<line x1="256.85" y1="474.5" x2="256.85" y2="469.3" stroke="#222" stroke-width="1.1"/>
<line x1="254.03" y1="469.3" x2="259.68" y2="469.3" stroke="#222" stroke-width="1.1"/>
<rect x="251.6" y="474.5" width="10.5" height="17.3" fill="url(#pD276)" stroke="#111" stroke-width="1.1"/>
<line x1="272.8" y1="445.6" x2="272.8" y2="433.5" stroke="#222" stroke-width="1.1"/>
<line x1="270" y1="433.5" x2="275.6" y2="433.5" stroke="#222" stroke-width="1.1"/>
<rect x="267.6" y="445.6" width="10.4" height="46.2" fill="#fff" stroke="#111" stroke-width="1.1"/>
<line x1="289.15" y1="450.6" x2="289.15" y2="443.4" stroke="#222" stroke-width="1.1"/>
<line x1="286.22" y1="443.4" x2="292.07" y2="443.4" stroke="#222" stroke-width="1.1"/>
<rect x="283.7" y="450.6" width="10.9" height="41.2" fill="url(#pLC)" stroke="#111" stroke-width="1.1"/>
<line x1="305.2" y1="474.5" x2="305.2" y2="467.1" stroke="#222" stroke-width="1.1"/>
<line x1="302.3" y1="467.1" x2="308.1" y2="467.1" stroke="#222" stroke-width="1.1"/>
<rect x="299.8" y="474.5" width="10.8" height="17.3" fill="url(#pL276)" stroke="#111" stroke-width="1.1"/>
<text transform="translate(206.6,458) rotate(-90)" x="0" y="0" font-size="5" font-weight="bold" text-anchor="middle" textLength="29.5" lengthAdjust="spacingAndGlyphs" fill="#1a1a1a" stroke="#1a1a1a" stroke-width="0.12" dominant-baseline="central">p24 (ng/ml)</text>
<path d="M271.7 431.7 V426.1 H306.9 V431.7" fill="none" stroke="#222" stroke-width="1.1"/>
<text x="289.3" y="424.9" font-size="5" font-weight="bold" text-anchor="middle" fill="#222" stroke="#222" stroke-width="0.15">*</text>
<text x="318.9" y="425.2" font-size="8" text-anchor="start" textLength="31.3" lengthAdjust="spacingAndGlyphs" fill="#1a1a1a" stroke="#1a1a1a" stroke-width="0.22">Raji-CD4</text>
<text x="359.7" y="425.2" font-size="8" text-anchor="start" textLength="52.9" lengthAdjust="spacingAndGlyphs" fill="#1a1a1a" stroke="#1a1a1a" stroke-width="0.22">Raji-CD4-DCIR</text>
<rect x="329.5" y="437" width="13.9" height="7.5" fill="#474747" stroke="#111" stroke-width="1.2"/>
<rect x="329.5" y="451.9" width="13.9" height="7.4" fill="#111"/>
<clipPath id="c356"><rect x="329.5" y="451.9" width="13.9" height="7.4"/></clipPath>
<g fill="#555" clip-path="url(#c356)"><rect x="332.5" y="452.4" width="2.5" height="2.5"/><rect x="337.5" y="452.4" width="2.5" height="2.5"/><rect x="342.5" y="452.4" width="2.5" height="2.5"/><rect x="330" y="454.9" width="2.5" height="2.5"/><rect x="335" y="454.9" width="2.5" height="2.5"/><rect x="340" y="454.9" width="2.5" height="2.5"/><rect x="345" y="454.9" width="2.5" height="2.5"/><rect x="332.5" y="457.4" width="2.5" height="2.5"/><rect x="337.5" y="457.4" width="2.5" height="2.5"/><rect x="342.5" y="457.4" width="2.5" height="2.5"/><rect x="330" y="459.9" width="2.5" height="2.5"/><rect x="335" y="459.9" width="2.5" height="2.5"/><rect x="340" y="459.9" width="2.5" height="2.5"/><rect x="345" y="459.9" width="2.5" height="2.5"/></g>
<rect x="329.5" y="451.9" width="13.9" height="7.4" fill="none" stroke="#111" stroke-width="1.2"/>
<rect x="329.5" y="466" width="13.9" height="7.5" fill="url(#pDS)" stroke="#111" stroke-width="1.2"/>
<rect x="373.5" y="436.2" width="14" height="8.4" fill="#fff" stroke="#111" stroke-width="1.2"/>
<rect x="373.5" y="452.1" width="14" height="7.6" fill="#fff"/>
<clipPath id="c362"><rect x="373.5" y="452.1" width="14" height="7.6"/></clipPath>
<g fill="#000" clip-path="url(#c362)"><rect x="376.5" y="452.6" width="2.5" height="2.5"/><rect x="381.5" y="452.6" width="2.5" height="2.5"/><rect x="386.5" y="452.6" width="2.5" height="2.5"/><rect x="374" y="455.1" width="2.5" height="2.5"/><rect x="379" y="455.1" width="2.5" height="2.5"/><rect x="384" y="455.1" width="2.5" height="2.5"/><rect x="389" y="455.1" width="2.5" height="2.5"/><rect x="376.5" y="457.6" width="2.5" height="2.5"/><rect x="381.5" y="457.6" width="2.5" height="2.5"/><rect x="386.5" y="457.6" width="2.5" height="2.5"/><rect x="374" y="460.1" width="2.5" height="2.5"/><rect x="379" y="460.1" width="2.5" height="2.5"/><rect x="384" y="460.1" width="2.5" height="2.5"/><rect x="389" y="460.1" width="2.5" height="2.5"/><rect x="376.5" y="462.6" width="2.5" height="2.5"/><rect x="381.5" y="462.6" width="2.5" height="2.5"/><rect x="386.5" y="462.6" width="2.5" height="2.5"/></g>
<rect x="373.5" y="452.1" width="14" height="7.6" fill="none" stroke="#111" stroke-width="1.2"/>
<rect x="373.5" y="466.5" width="14" height="7.6" fill="#fff" stroke="#111" stroke-width="1.2"/>
<rect x="374.1" y="470.3" width="12.8" height="3.2" fill="#d4d4d4"/>
<line x1="373.5" y1="470.9" x2="387.5" y2="470.9" stroke="#111" stroke-width="1.9"/>
<text x="392" y="441.2" font-size="8.2" text-anchor="start" textLength="52.9" lengthAdjust="spacingAndGlyphs" fill="#1a1a1a" stroke="#1a1a1a" stroke-width="0.18">Non transfected</text>
<text x="392" y="458.5" font-size="8.2" text-anchor="start" textLength="18.8" lengthAdjust="spacingAndGlyphs" fill="#1a1a1a" stroke="#1a1a1a" stroke-width="0.18">Sense</text>
<text x="392" y="472.3" font-size="8.2" text-anchor="start" textLength="31.8" lengthAdjust="spacingAndGlyphs" fill="#1a1a1a" stroke="#1a1a1a" stroke-width="0.18">Antisense</text>
<text x="11.8" y="525.8" font-size="10.6" font-weight="bold" text-anchor="start" fill="#111" stroke="#111" stroke-width="0.3">F</text>
<text x="25.4" y="525.6" font-size="8" text-anchor="start" textLength="103.7" lengthAdjust="spacingAndGlyphs" fill="#1a1a1a" stroke="#1a1a1a" stroke-width="0.15">PI-3 kinase inhibitor: Wortmannin</text>
<line x1="29.1" y1="537.6" x2="29.1" y2="625.6" stroke="#222" stroke-width="1.1"/>
<line x1="28.6" y1="625.1" x2="129" y2="625.1" stroke="#222" stroke-width="1.1"/>
<line x1="27.1" y1="625.1" x2="29.1" y2="625.1" stroke="#222" stroke-width="0.9"/>
<text x="26.2" y="626.83" font-size="4.8" font-weight="bold" text-anchor="end" fill="#222">0</text>
<line x1="27.1" y1="581.6" x2="29.1" y2="581.6" stroke="#222" stroke-width="0.9"/>
<text x="26.2" y="583.33" font-size="4.8" font-weight="bold" text-anchor="end" fill="#222">1</text>
<line x1="27.1" y1="538.1" x2="29.1" y2="538.1" stroke="#222" stroke-width="0.9"/>
<text x="26.2" y="539.83" font-size="4.8" font-weight="bold" text-anchor="end" fill="#222">2</text>
<line x1="42.15" y1="594.3" x2="42.15" y2="593.3" stroke="#222" stroke-width="1.1"/>
<line x1="37.83" y1="593.3" x2="46.47" y2="593.3" stroke="#222" stroke-width="1.1"/>
<rect x="33.9" y="594.3" width="16.5" height="30.8" fill="#474747" stroke="#111" stroke-width="1.1"/>
<line x1="67.1" y1="583.1" x2="67.1" y2="575.3" stroke="#222" stroke-width="1.1"/>
<line x1="62.75" y1="575.3" x2="71.45" y2="575.3" stroke="#222" stroke-width="1.1"/>
<rect x="58.8" y="583.1" width="16.6" height="42" fill="url(#pD346)" stroke="#111" stroke-width="1.1"/>
<line x1="92.05" y1="562.6" x2="92.05" y2="554.1" stroke="#222" stroke-width="1.1"/>
<line x1="87.82" y1="554.1" x2="96.28" y2="554.1" stroke="#222" stroke-width="1.1"/>
<rect x="84" y="562.6" width="16.1" height="62.5" fill="#fff" stroke="#111" stroke-width="1.1"/>
<line x1="116.6" y1="564.1" x2="116.6" y2="553.1" stroke="#222" stroke-width="1.1"/>
<line x1="112.35" y1="553.1" x2="120.85" y2="553.1" stroke="#222" stroke-width="1.1"/>
<rect x="108.5" y="564.1" width="16.2" height="61" fill="url(#pL346)" stroke="#111" stroke-width="1.1"/>
<text transform="translate(16.8,581.5) rotate(-90)" x="0" y="0" font-size="6" font-weight="bold" text-anchor="middle" textLength="37" lengthAdjust="spacingAndGlyphs" fill="#1a1a1a" stroke="#1a1a1a" stroke-width="0.12" dominant-baseline="central">p24 (ng/ml)</text>
<text x="1.8" y="637.9" font-size="6" text-anchor="start" textLength="22" lengthAdjust="spacingAndGlyphs" fill="#222" stroke="#222" stroke-width="0.12">Inhibitor</text>
<line x1="42.4" y1="635" x2="45.6" y2="635" stroke="#555" stroke-width="0.6"/>
<line x1="66.1" y1="635" x2="68.5" y2="635" stroke="#555" stroke-width="0.6"/>
<line x1="67.3" y1="633.8" x2="67.3" y2="636.2" stroke="#555" stroke-width="0.6"/>
<line x1="90" y1="635" x2="93.2" y2="635" stroke="#555" stroke-width="0.6"/>
<line x1="114.3" y1="635" x2="116.7" y2="635" stroke="#555" stroke-width="0.6"/>
<line x1="115.5" y1="633.8" x2="115.5" y2="636.2" stroke="#555" stroke-width="0.6"/>
<text x="44" y="645.1" font-size="6.4" text-anchor="start" textLength="19" lengthAdjust="spacingAndGlyphs" fill="#222" stroke="#222" stroke-width="0.12">Control</text>
<text x="98" y="644.9" font-size="6.4" text-anchor="start" textLength="12.3" lengthAdjust="spacingAndGlyphs" fill="#222" stroke="#222" stroke-width="0.12">DCIR</text>
</svg></body></html>
